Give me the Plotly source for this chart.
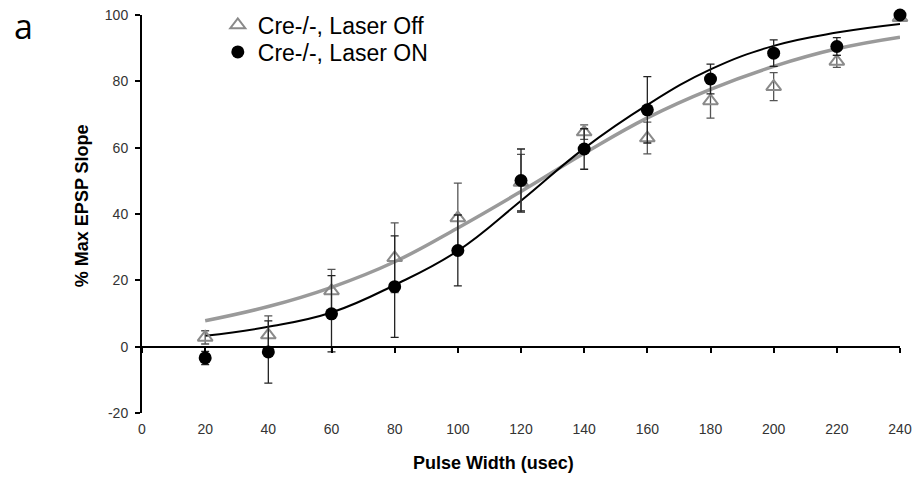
import plotly.graph_objects as go

# Pulse widths (usec)
pulse_width = [20, 40, 60, 80, 100, 120, 140, 160, 180, 200, 220, 240]

# Cre-/-, Laser Off: mean % max EPSP slope and error
off_mean = [2.8, 3.5, 16.8, 26.8, 38.8, 49.5, 64.7, 62.9, 74.1, 78.4, 86.0, 99.2]
off_err = [2.0, 5.8, 6.5, 10.5, 10.5, 8.5, 2.2, 4.8, 5.2, 4.2, 1.8, 0.8]

# Cre-/-, Laser ON: mean % max EPSP slope and error
on_mean = [-3.4, -1.6, 9.9, 18.1, 29.0, 50.1, 59.6, 71.4, 80.7, 88.5, 90.5, 100.0]
on_err = [2.0, 9.4, 11.5, 15.3, 10.7, 9.5, 6.1, 10.0, 4.5, 4.0, 2.7, 1.2]

# Sigmoid fit curves evaluated at each pulse width
off_fit = [7.8, 12.1, 17.9, 25.6, 35.8, 46.8, 58.3, 69.0, 77.6, 84.5, 89.8, 93.3]
on_fit = [3.3, 6.0, 10.3, 18.6, 28.9, 44.0, 59.8, 72.9, 83.6, 90.7, 94.7, 97.3]

x_ticks = [0, 20, 40, 60, 80, 100, 120, 140, 160, 180, 200, 220, 240]
y_ticks = [-20, 0, 20, 40, 60, 80, 100]
y_tick_text = ["-20", "0", "20", "40", "60", "80", "100"]

GRAY = "#8a8a8a"
FONT = "Arial, Liberation Sans, sans-serif"

fig = go.Figure()

fig.add_trace(go.Scatter(
    x=pulse_width, y=off_fit, mode="lines",
    line=dict(color="#9a9a9a", width=3.5, shape="spline", smoothing=1.2),
    showlegend=False, hoverinfo="skip"))
fig.add_trace(go.Scatter(
    x=pulse_width, y=on_fit, mode="lines",
    line=dict(color="black", width=2, shape="spline", smoothing=1.2),
    showlegend=False, hoverinfo="skip"))

fig.add_trace(go.Scatter(
    x=pulse_width, y=off_mean, mode="markers", name="Cre-/-, Laser Off",
    cliponaxis=False, legend="legend",
    marker=dict(symbol="triangle-up-open", size=13, color=GRAY, line=dict(width=2, color=GRAY)),
    error_y=dict(type="data", array=off_err, symmetric=True, color="#555555", thickness=1.3, width=4)))
fig.add_trace(go.Scatter(
    x=pulse_width, y=on_mean, mode="markers", name="Cre-/-, Laser ON",
    cliponaxis=False, legend="legend2",
    marker=dict(symbol="circle", size=13, color="black"),
    error_y=dict(type="data", array=on_err, symmetric=True, color="#222222", thickness=1.3, width=4)))

# Empty trace that carries the axis line drawn through y = 0
fig.add_trace(go.Scatter(x=[], y=[], xaxis="x2", showlegend=False, hoverinfo="skip"))

legend_style = dict(
    xanchor="left", yanchor="middle",
    font=dict(family=FONT, size=23, color="black"),
    bgcolor="rgba(0,0,0,0)", itemwidth=30)

fig.update_layout(
    width=918, height=478,
    margin=dict(l=142, r=18, t=15, b=65, autoexpand=False),
    paper_bgcolor="white", plot_bgcolor="white",
    font=dict(family=FONT, color="#333333"),
    showlegend=True,
    legend=dict(x=0.1, y=0.975, **legend_style),
    legend2=dict(x=0.1, y=0.907, **legend_style),
    xaxis=dict(
        range=[0, 240], tickvals=x_ticks, showline=False, showgrid=False,
        zeroline=False, ticks="", tickfont=dict(size=14, color="#333333"),
        ticklabelstandoff=6, fixedrange=True),
    xaxis2=dict(
        range=[0, 240], tickvals=x_ticks, overlaying="x", anchor="free",
        position=1 / 6, side="bottom", showline=True, linecolor="black",
        linewidth=2, ticks="outside", ticklen=5, tickwidth=1.5, tickcolor="black",
        showticklabels=False, showgrid=False, zeroline=False, fixedrange=True),
    yaxis=dict(
        range=[-20, 100], tickvals=y_ticks, ticktext=y_tick_text,
        showline=True, linecolor="black",
        linewidth=2, ticks="outside", ticklen=5, tickwidth=1.5, tickcolor="black",
        showgrid=False, zeroline=False, tickfont=dict(size=14, color="#333333"),
        ticklabelstandoff=4, fixedrange=True),
    annotations=[
        dict(text="% Max EPSP Slope", xref="paper", yref="paper",
             x=-0.079, y=0.52, xanchor="center", yanchor="middle",
             textangle=-90, showarrow=False,
             font=dict(family=FONT, size=18, color="black", weight="bold")),
        dict(text="Pulse Width (usec)", xref="paper", yref="paper",
             x=0.464, y=-0.126, xanchor="center", yanchor="middle", showarrow=False,
             font=dict(family=FONT, size=18, color="black", weight="bold")),
        dict(text="a", xref="paper", yref="paper", x=-0.172, y=1.035,
             xanchor="left", yanchor="top", showarrow=False,
             font=dict(family="Open Sans, sans-serif", size=34, color="black")),
    ],
)

fig.write_html("out.html")
